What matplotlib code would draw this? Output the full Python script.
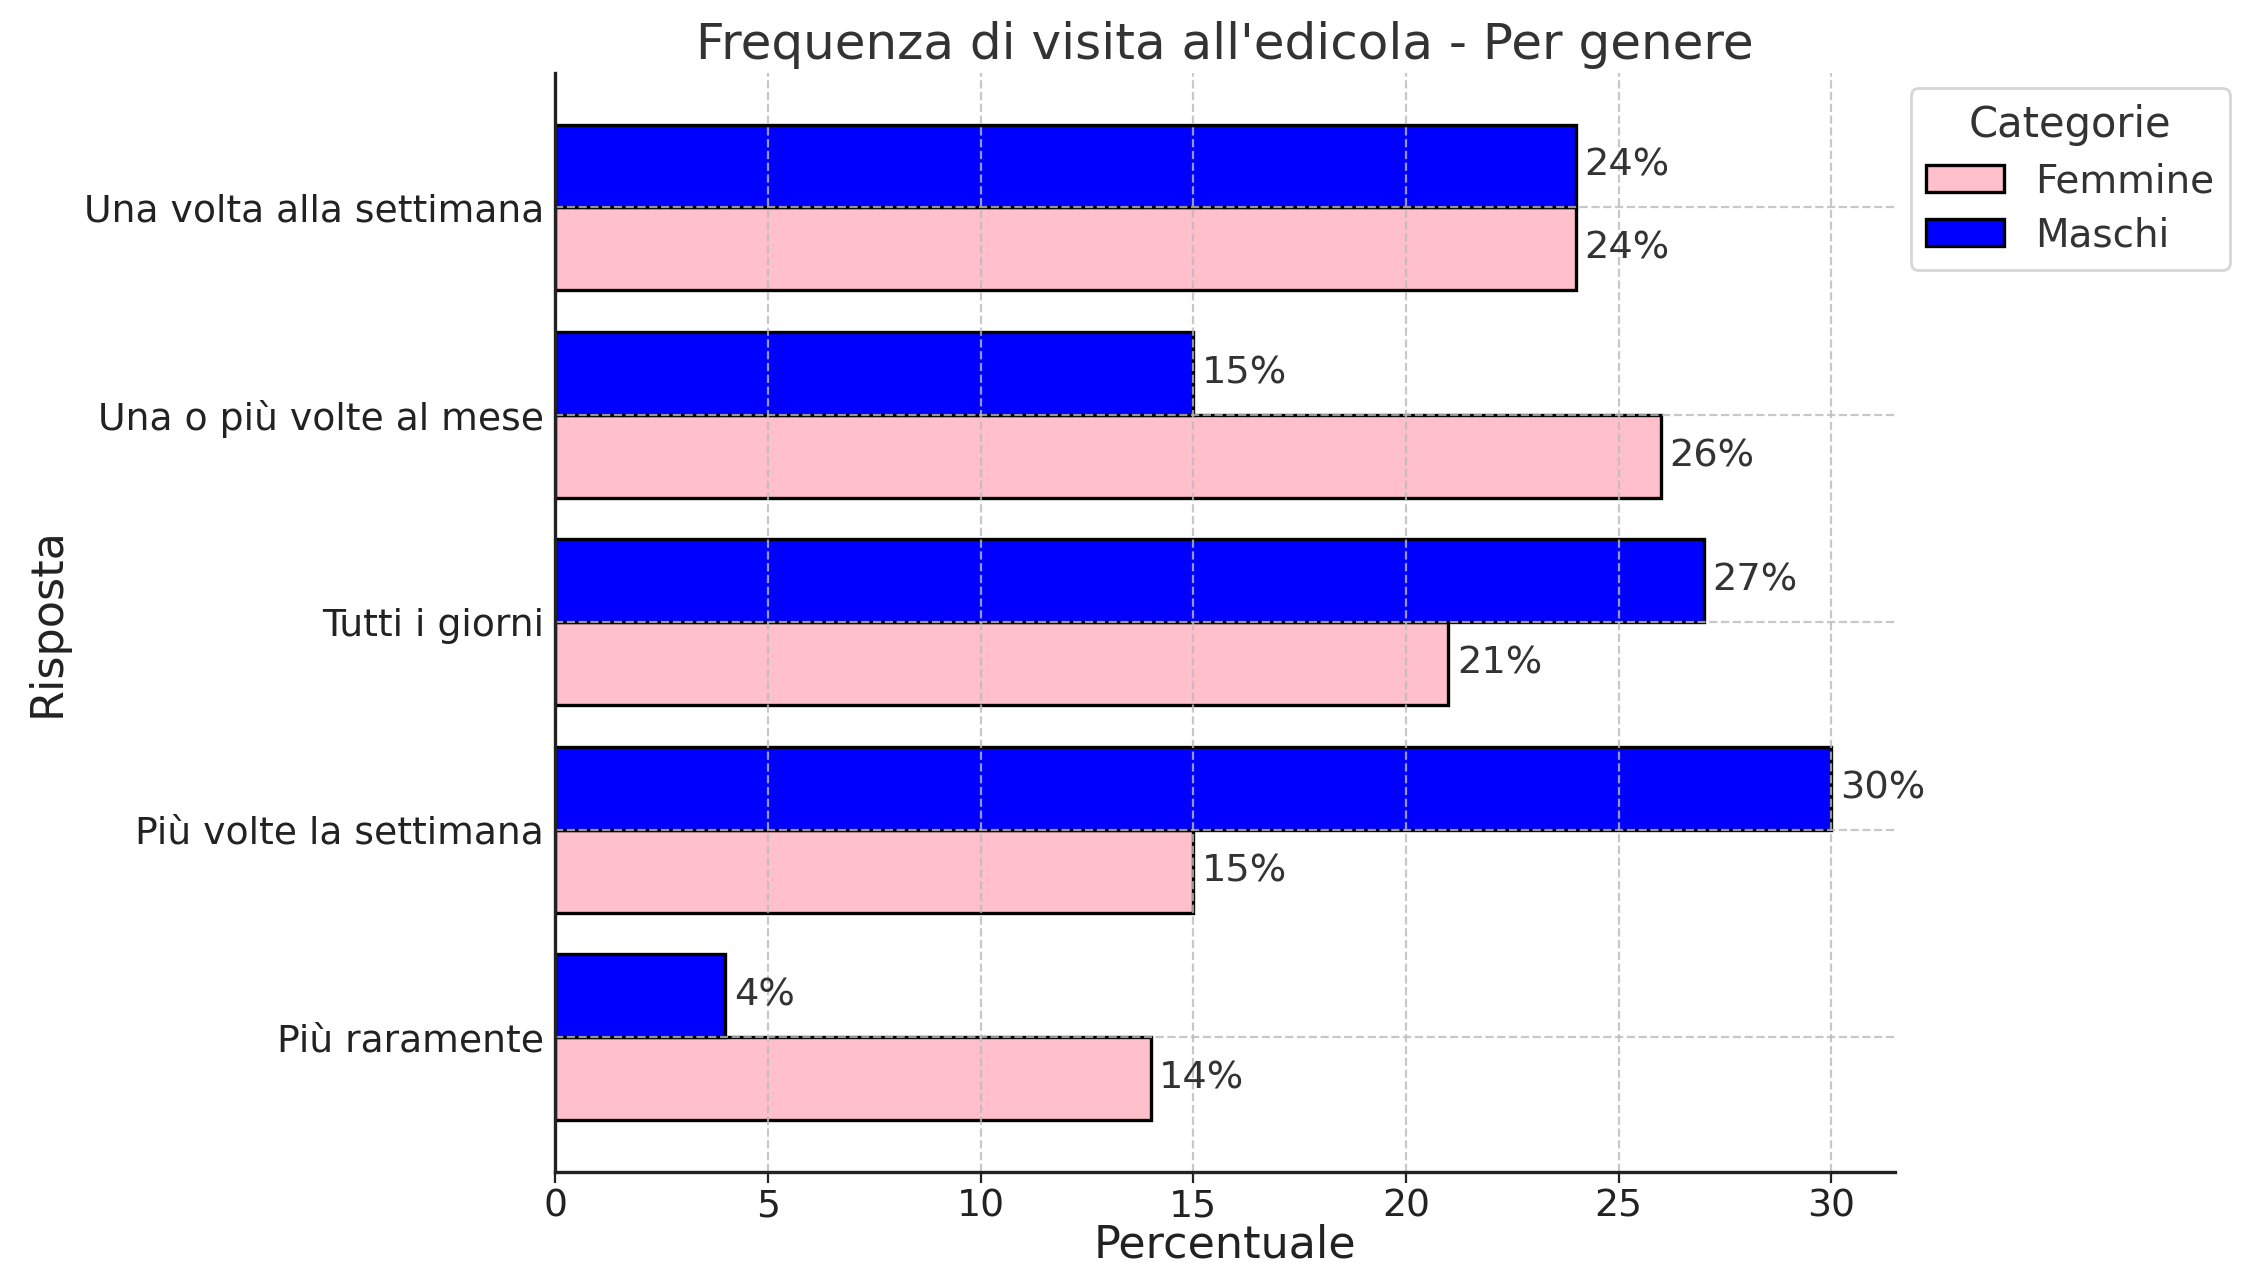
import matplotlib
matplotlib.use("Agg")
import matplotlib.pyplot as plt
import numpy as np

categories = ["Più raramente", "Più volte la settimana", "Tutti i giorni",
              "Una o più volte al mese", "Una volta alla settimana"]
femmine = [14, 15, 21, 26, 24]
maschi = [4, 30, 27, 15, 24]
series_names = ["Femmine", "Maschi"]
colors = ["pink", "blue"]

plt.rcParams['font.family'] = ['DejaVu Sans']
txt = '#333333'

fig = plt.figure(figsize=(11.24, 6.34), dpi=200)
ax = fig.add_axes([0.247, 0.0757, 0.596, 0.867])

y = np.arange(len(categories))
h = 0.4
b1 = ax.barh(y - h/2, femmine, height=h, color=colors[0], edgecolor='black', linewidth=1.2, label=series_names[0], zorder=2)
b2 = ax.barh(y + h/2, maschi, height=h, color=colors[1], edgecolor='black', linewidth=1.2, label=series_names[1], zorder=2)

for bars in (b1, b2):
    for r in bars:
        w = r.get_width()
        ax.text(w + 0.2, r.get_y() + r.get_height()/2, f"{w:.0f}%", va='center', ha='left',
                fontsize=13.8, color=txt)

ax.set_yticks(y)
ax.set_yticklabels(categories, fontsize=13.6, color='#222222')
ax.set_ylim(-0.65, 4.65)
ax.set_xlim(0, 31.5)
ax.set_xticks([0, 5, 10, 15, 20, 25, 30])
ax.tick_params(axis='x', labelsize=13.6, colors='#222222', length=4, pad=2)
ax.tick_params(axis='y', length=0, pad=4)
ax.grid(True, linestyle='--', color='#bbbbbb', linewidth=0.8, alpha=0.8, zorder=3)
ax.set_axisbelow(False)
for s in ['top', 'right']:
    ax.spines[s].set_visible(False)
for s in ['left', 'bottom']:
    ax.spines[s].set_color('#222222')
    ax.spines[s].set_linewidth(1.2)
    ax.spines[s].set_zorder(4)

ax.set_title("Frequenza di visita all'edicola - Per genere", fontsize=18, color=txt, pad=5)
ax.set_xlabel("Percentuale", fontsize=16, color='#222222')
ax.set_ylabel("Risposta", fontsize=16, color='#222222')
ax.yaxis.set_label_coords(-0.363, 0.5)

leg = ax.legend(title="Categorie", loc='upper left', bbox_to_anchor=(1.0, 1.0), fontsize=14,
                title_fontsize=15, borderaxespad=0.4, labelspacing=0.42, handlelength=2.0)
for t in leg.get_texts():
    t.set_color(txt)
leg.get_title().set_color(txt)

# x label sits right at the bottom edge of the figure, as in the reference
ax.xaxis.set_label_coords(0.5, -(0.0757 - 1 / 1268) / 0.867)
ax.xaxis.label.set_va('bottom')

fig.savefig("out.png", dpi=200)
